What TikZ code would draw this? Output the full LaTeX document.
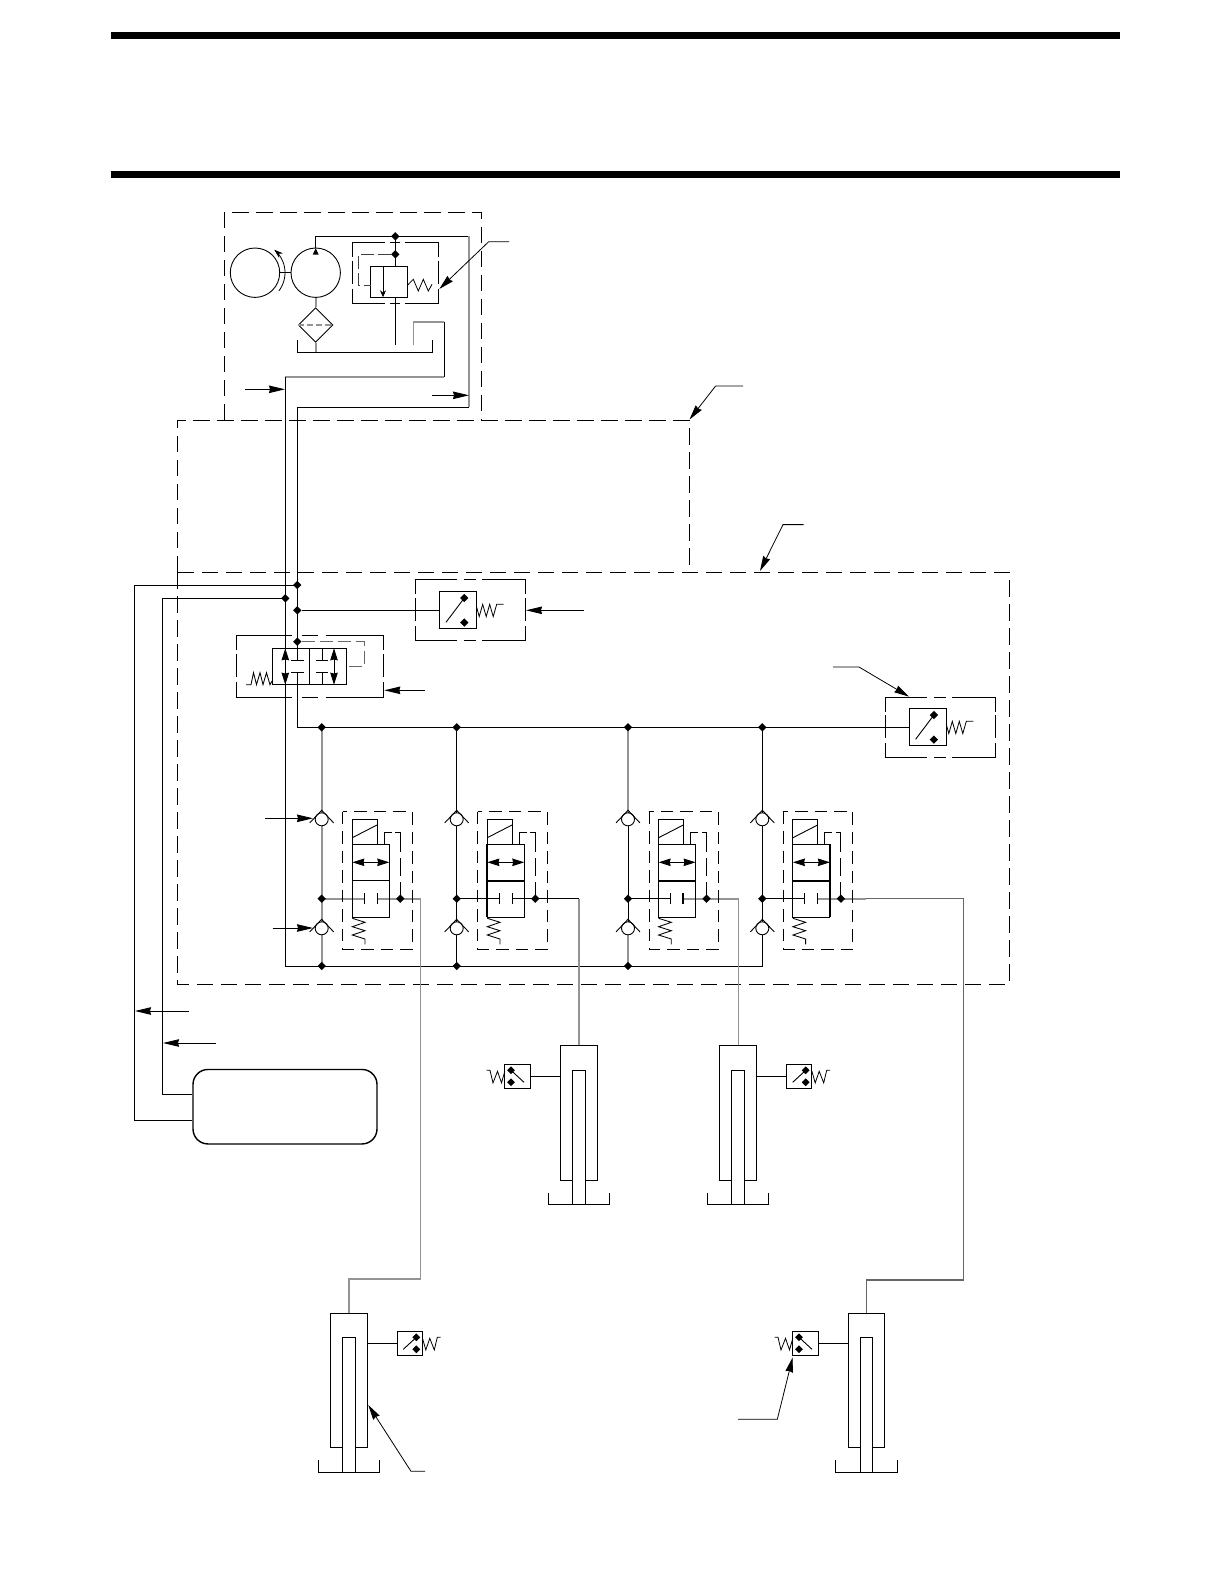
\documentclass[tikz,border=0pt]{standalone}
\usetikzlibrary{arrows.meta,shapes.geometric}
\tikzset{
  ln/.style={draw=black,line width=.9pt,line join=miter},
  gl/.style={draw=black!42,line width=1.6pt},
  bl/.style={draw=black,line width=1.9pt},
  bigdash/.style={draw=black,line width=.9pt,dash pattern=on 16.5pt off 7.5pt},
  smdash/.style={draw=black,line width=.9pt,dash pattern=on 12.5pt off 7pt},
  tipp/.style={-{Stealth[length=16pt,width=7.5pt,inset=1pt]}},
  dbl/.style={{Stealth[length=12pt,width=7.5pt,inset=.8pt]}-{Stealth[length=12pt,width=7.5pt,inset=.8pt]}},
  leader/.style={draw=black,line width=.8pt,-{Stealth[length=15pt,width=7.5pt,inset=1pt]}},
  dot/.style={diamond,fill=black,inner sep=0pt,minimum size=8.5pt},
  bar/.style={draw=black,line width=7pt}
}
% small dashed enclosure: corners with one short dash on each side
\newcommand{\DBX}[4]{%
  \pgfmathsetmacro\dxw{#3-#1}\pgfmathsetmacro\dxh{#4-#2}%
  \draw[ln] (#1,{#2+.24*\dxh}) |- ({#1+.378*\dxw},#2);
  \draw[ln] ({#1+.444*\dxw},#2) -- ({#1+.553*\dxw},#2);
  \draw[ln] ({#1+.607*\dxw},#2) -| (#3,{#2+.24*\dxh});
  \draw[ln] (#1,{#2+.76*\dxh}) |- ({#1+.378*\dxw},#4);
  \draw[ln] ({#1+.444*\dxw},#4) -- ({#1+.553*\dxw},#4);
  \draw[ln] ({#1+.607*\dxw},#4) -| (#3,{#2+.76*\dxh});
  \draw[ln] (#1,{#2+.30*\dxh}) -- (#1,{#2+.68*\dxh});
  \draw[ln] (#3,{#2+.30*\dxh}) -- (#3,{#2+.68*\dxh});
}
% large pressure switch, x y = middle of the attached side
\newcommand{\SWB}[3]{%
  \begin{scope}[shift={(#2,#3)}]
    \draw[ln] (0,-18.5) rectangle (37,18.5);
    \node[dot] (#1a) at (24.6,-12.3) {};
    \node[dot] (#1b) at (24.6,12.3) {};
    \draw[ln] (6.3,12) -- (#1a.center);
    \draw[draw=black,line width=.8pt] (37,-3) -- (39.5,6.3) -- (43,-6) -- (46.5,6.3) -- (50,-6) -- (53.5,6.3) -- (57,-6) -- (64,-6);
  \end{scope}}
% small pressure switch on a cylinder, #4 = 1 faces right, -1 faces left
\newcommand{\SWS}[4]{%
  \begin{scope}[shift={(#2,#3)},xscale=#4]
    \draw[ln] (0,-12.2) rectangle (25.2,12.2);
    \node[dot,minimum size=8pt] (#1a) at (19,-6) {};
    \node[dot,minimum size=8pt] (#1b) at (19,6) {};
    \draw[ln] (6,6) -- (#1a.center);
    \draw[draw=black,line width=.8pt] (25.2,-5) -- (28.5,6.6) -- (32.5,-5) -- (37,6.6) -- (40,-6) -- (43.4,-6);
  \end{scope}}
% check valve
\newcommand{\CHK}[3]{%
  \node[circle,draw=black,line width=.9pt,fill=white,inner sep=0pt,minimum size=13pt] (#1) at (#2,#3) {};
  \draw[ln] (#2-12,#3+3.6) -- (#2,#3-9) -- (#2+12,#3+3.6);}
% solenoid valve with enclosure
\newcommand{\VLV}[1]{%
  \begin{scope}[xshift=#1pt]
    \draw[smdash] (21,811.7) rectangle (90.5,949.3);
    \draw[ln] (30.6,844) rectangle (67.6,917.3);
    \draw[ln] (30.6,880.7) -- (67.6,880.7);
    \draw[ln] (30.6,844) |- (55.3,819.3) -- (55.3,844);
    \draw[ln] (30.6,837.7) -- (55.3,825);
    \draw[ln,dbl] (30.6,862.3) -- (67.6,862.3);
    \draw[ln] (42.6,893) -- (42.6,904.4);
    \draw[ln] (55.3,893) -- (55.3,904.4);
    \draw[ln] (62.6,844) |- (70,832.7);
    \draw[ln] (73.5,832.7) -| (78.6,852);
    \draw[ln] (78.6,858) -- (78.6,876);
    \draw[ln] (78.6,882) -- (78.6,898.7);
    \draw[draw=black,line width=.85pt] (30.6,918.3) -- (43.3,922.3) -- (30.6,926.7) -- (43.3,930.7) -- (30.6,935) -- (43.3,939) -- (43.3,944.3);
  \end{scope}}
% cylinder: c = centre, t = top
\newcommand{\CYL}[2]{%
  \begin{scope}[shift={(#1,#2)}]
    \draw[ln] (-6.2,134.3) -- (-18.3,134.3) -- (-18.3,0) -- (18.3,0) -- (18.3,134.3) -- (6.2,134.3);
    \draw[ln] (-6.2,159) |- (6.2,24.3) -- (6.2,159);
    \draw[ln] (-30.7,147) |- (30.7,159) -- (30.7,147);
  \end{scope}}
\begin{document}
\begin{tikzpicture}[x=1pt,y=-1pt]
\useasboundingbox (0,0) rectangle (1225,1585);
% page rules
\coordinate (r1a) at (111,35.5); \coordinate (r1b) at (1120,35.5);
\coordinate (r2a) at (111,174);  \coordinate (r2b) at (1120,174);
\draw[bar] (r1a) -- (r1b);
\draw[bar] (r2a) -- (r2b);

% enclosures
\draw[bigdash] (224,420) |- (481.3,212) -- (481.3,420);
\draw[bigdash] (177.3,572) |- (689,420) -- (689,572);
\draw[bigdash] (177.3,572) rectangle (1009.3,984.4);

% power unit
\node[circle,draw=black,line width=.9pt,inner sep=0pt,minimum size=49.4pt] (motor) at (255,272.7) {};
\node[circle,draw=black,line width=.9pt,inner sep=0pt,minimum size=49.4pt] (pump) at (315.7,272.7) {};
\draw[ln] (motor.east) -- (pump.west);
\draw[draw=black,line width=.8pt,-{Stealth[length=9pt,width=6pt]}] plot[domain=-37:50,samples=24,smooth] ({255+30*cos(\x)},{272.7-30*sin(\x)});
\node[diamond,draw=black,line width=.9pt,inner sep=0pt,minimum width=34.6pt,minimum height=34.6pt] (filter) at (315.7,325) {};
\draw[gl,line width=1.2pt,dash pattern=on 6pt off 3pt] (filter.west) -- (filter.east);
\draw[gl] (pump.south) -- (filter.north);
\draw[gl] (filter.south) -- (315.7,352.3);
\coordinate (tankL) at (297.3,340); \coordinate (tankR) at (432.3,340);
\draw[ln] (tankL) |- (tankR |- 0,352.3) -- (tankR);
\fill[black] (315.7,248.2) -- (312.7,254.7) -- (318.7,254.7) -- cycle;
\draw[ln] (pump.north) |- (469,236.3);
\draw[gl] (469,236.3) -- (469,407.3);
\draw[ln] (469,407.3) -- (297.3,407.3) -- (297.3,660);
\draw[gl] (413.3,345) |- (444.3,321.7);
\draw[ln] (444.3,321.7) -- (444.3,377);
\draw[gl] (444.3,377) -- (285.3,377);
\draw[ln] (285.3,377) -- (285.3,966);
\DBX{352.3}{242.3}{438.3}{303.3}
\draw[ln] (395.3,236.3) -- (395.3,266.7);
\node[dot] (j1) at (395.3,236.3) {};
\node[dot] (j2) at (395.3,254.3) {};
\draw[ln] (395.3,297.3) -- (395.3,345);
\draw[ln] (370.7,266.7) rectangle (407.7,297.3);
\draw[ln,-{Stealth[length=7pt,width=6pt]}] (383,266.7) -- (383,297.3);
\draw[draw=black,line width=.8pt] (407.7,285) -- (413.3,279.3) -- (418.3,291) -- (423.3,279.3) -- (428.3,291) -- (432,284.3);
\draw[draw=black!75,line width=.9pt,dash pattern=on 13pt off 4pt] (j2) -- (358.7,254.3) -- (358.7,285) -- (370.7,285);
\coordinate (l1a) at (509,241.7); \coordinate (l1b) at (488.7,241.7); \coordinate (l1c) at (439.3,289);
\draw[leader] (l1a) -- (l1b) -- (l1c);
\coordinate (a1a) at (245,389.3); \coordinate (a1b) at (285,389.3);
\coordinate (a2a) at (432,395.3); \coordinate (a2b) at (469,395.3);
\draw[ln,tipp] (a1a) -- (a1b);
\draw[ln,tipp] (a2a) -- (a2b);
\coordinate (l2a) at (743,386); \coordinate (l2b) at (715.6,386); \coordinate (l2c) at (689.5,419.5);
\draw[leader] (l2a) -- (l2b) -- (l2c);
\coordinate (l3a) at (803.5,524.6); \coordinate (l3b) at (783,524.6); \coordinate (l3c) at (760,571);
\draw[leader] (l3a) -- (l3b) -- (l3c);

% external lines to the reservoir
\node[rectangle,rounded corners=15pt,draw=black,line width=1.4pt,minimum width=184pt,minimum height=74.5pt,inner sep=0pt] (res) at (285,1106.7) {};
\draw[ln] (297.3,585) -| (134.7,1120) -- (res.west |- 0,1120);
\draw[ln] (285.3,598.3) -| (162.3,1094) -- (res.west |- 0,1094);
\node[dot] (j3) at (297.3,585) {};
\node[dot] (j4) at (285.3,598.3) {};
\node[dot] (j5) at (297.3,610.3) {};
\coordinate (a3a) at (189,1011); \coordinate (a3b) at (135,1011);
\coordinate (a4a) at (216.3,1043); \coordinate (a4b) at (163,1043);
\draw[ln,tipp] (a3a) -- (a3b);
\draw[ln,tipp] (a4a) -- (a4b);

% top pressure switch
\DBX{415.3}{579.7}{525.3}{640.7}
\draw[ln] (j5) -- (439.7,610.3);
\SWB{sa}{439.7}{610.3}
\coordinate (a5a) at (584,610.3); \coordinate (a5b) at (526,610.3);
\draw[ln,tipp] (a5a) -- (a5b);

% selector valve
\DBX{236.3}{635.7}{383.3}{697}
\draw[ln] (272.7,648.3) rectangle (346.7,684.7);
\draw[ln] (309.7,648.3) -- (309.7,684.7);
\node[dot] (j6) at (297.3,641.7) {};
\draw[ln,dbl] (285.3,648.3) -- (285.3,684.7);
\draw[ln,dbl] (334,648.3) -- (334,684.7);
\draw[ln] (291,660) -- (304,660);
\draw[ln] (291,672.7) -- (304,672.7);
\draw[ln] (322,648.3) -- (322,660);
\draw[ln] (316,660) -- (328,660);
\draw[ln] (316,672.7) -- (328,672.7);
\draw[ln] (322,672.7) -- (322,684.7);
\draw[draw=black,line width=.85pt] (246,684.7) -- (251,684.7) -- (253.5,672.7) -- (256.5,684.7) -- (260,672.7) -- (263,684.7) -- (266.5,672.7) -- (270,684.7) -- (272.7,680);
\draw[draw=black!60,line width=1pt,dash pattern=on 13pt off 5pt] (j6) -- (364.7,641.7) -- (364.7,666.3) -- (346.7,666.3);
\coordinate (a6a) at (425,690.3); \coordinate (a6b) at (384.3,690.3);
\draw[ln,tipp] (a6a) -- (a6b);

% main pressure line
\draw[ln] (297.3,672.7) |- (909.3,727.3);
\DBX{885}{697.3}{995.3}{757.7}
\SWB{sb}{909.3}{727.3}
\coordinate (l4a) at (833,667); \coordinate (l4b) at (859,667); \coordinate (l4c) at (909,696.6);
\draw[leader] (l4a) -- (l4b) -- (l4c);

% bottom return line and branches
\draw[ln] (285.3,966) -- (762.3,966) -- (762.3,727.3);
\draw[gl] (321.7,727.3) -- (321.7,966);
\draw[ln] (456.7,727.3) -- (456.7,966);
\draw[gl] (628,727.3) -- (628,812);
\draw[ln] (628,812) -- (628,925);
\draw[gl] (628,925) -- (628,966);

% lines from the valves to the cylinders
\draw[gl] (321.7,898.7) -- (364.3,898.7);
\draw[gl] (377,898.7) -- (420.3,898.7) -- (420.3,1279) -- (349,1279) -- (349,1313.3);
\draw[ln] (456.7,898.7) -- (499.3,898.7);
\draw[ln] (512,898.7) -- (579,898.7);
\draw[gl,line width=1.3pt] (579,898.7) -- (579,1045.7);
\draw[ln] (628,898.7) -- (670.6,898.7);
\draw[gl] (683.3,898.7) -- (738.3,898.7) -- (738.3,1045.7);
\draw[ln] (762.3,898.7) -- (804.9,898.7);
\draw[gl] (817.6,898.7) -- (866,898.7);
\draw[gl,line width=1.2pt,draw=black!60] (866,898.7) -- (963.3,898.7) -- (963.3,1280) -- (866.3,1280) -- (866.3,1313.3);

% valves
\VLV{321.7}
\VLV{456.7}
\VLV{628}
\VLV{762.3}
\draw[bl] (487.3,844) -- (487.3,917.3);
\draw[bl] (487.3,880.7) -- (524.3,880.7);
\draw[bl] (658.6,880.7) -- (695.6,880.7);
\draw[bl] (683.3,893) -- (683.3,904.4);
\draw[bl] (792.9,880.7) -- (829.9,880.7);
\draw[bl] (829.9,844) -- (829.9,917.3);
\CHK{k1a}{321.7}{819.3}
\CHK{k1b}{321.7}{928.3}
\CHK{k2a}{456.7}{819.3}
\CHK{k2b}{456.7}{928.3}
\CHK{k3a}{628}{819.3}
\CHK{k3b}{628}{928.3}
\CHK{k4a}{762.3}{819.3}
\CHK{k4b}{762.3}{928.3}
\coordinate (a7a) at (265,818.3); \coordinate (a7b) at (313,818.3);
\coordinate (a8a) at (272.7,928); \coordinate (a8b) at (313,928);
\draw[ln,tipp] (a7a) -- (a7b);
\draw[ln,tipp] (a8a) -- (a8b);

% junction marks
\node[dot] (m1) at (321.7,727.3) {};
\node[dot] (m2) at (456.7,727.3) {};
\node[dot] (m3) at (628,727.3) {};
\node[dot] (m4) at (762.3,727.3) {};
\node[dot] (b1) at (321.7,966) {};
\node[dot] (b2) at (456.7,966) {};
\node[dot] (b3) at (628,966) {};
\node[dot] (c1) at (321.7,898.7) {};
\node[dot] (c2) at (456.7,898.7) {};
\node[dot] (c3) at (628,898.7) {};
\node[dot] (c4) at (762.3,898.7) {};
\node[dot] (d1) at (400.3,898.7) {};
\node[dot] (d2) at (535.3,898.7) {};
\node[dot] (d3) at (706.6,898.7) {};
\node[dot] (d4) at (840.9,898.7) {};

% cylinders
\CYL{349}{1313.3}
\CYL{579}{1045.7}
\CYL{738}{1045.7}
\CYL{866.6}{1313.3}

% switches on the cylinders
\SWS{s1}{397.3}{1343.3}{1}
\draw[ln] (367.3,1343.3) -- (397.3,1343.3);
\SWS{s2}{530}{1076.3}{-1}
\draw[ln] (530,1076.3) -- (560.7,1076.3);
\SWS{s3}{786.7}{1076.3}{1}
\draw[ln] (756.3,1076.3) -- (786.7,1076.3);
\SWS{s4}{818}{1343.3}{-1}
\draw[ln] (818,1343.3) -- (848.3,1343.3);

% leaders at the bottom
\coordinate (l5a) at (425,1471.3); \coordinate (l5b) at (411,1471.3); \coordinate (l5c) at (368.3,1405);
\draw[leader] (l5a) -- (l5b) -- (l5c);
\coordinate (l6a) at (738,1419.3); \coordinate (l6b) at (777.3,1419.3); \coordinate (l6c) at (792.7,1357.3);
\draw[leader] (l6a) -- (l6b) -- (l6c);
\end{tikzpicture}
\end{document}
